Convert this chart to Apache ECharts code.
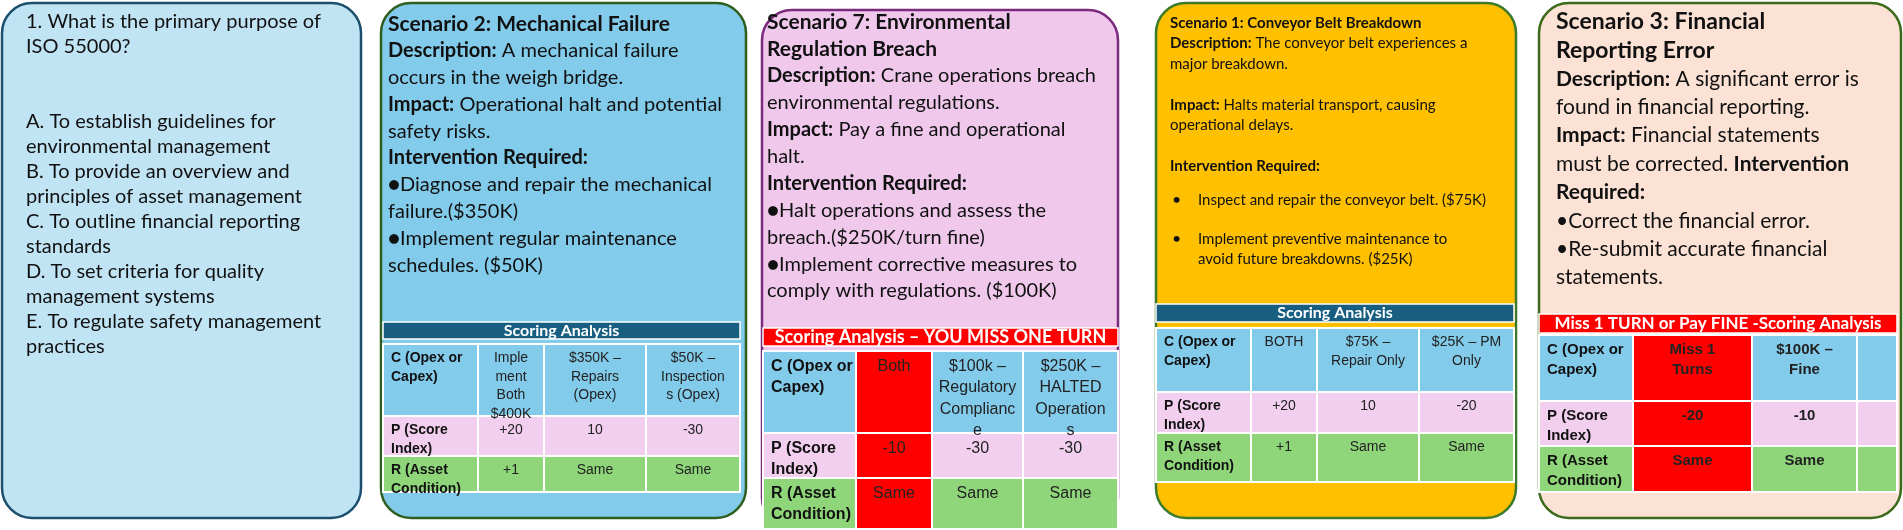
<!DOCTYPE html>
<html>
<head>
<meta charset="utf-8">
<script src="https://cdn.jsdelivr.net/npm/echarts@6/dist/echarts.min.js"></script>
<style>html,body{margin:0;padding:0;background:#fff}#chart{width:1903px;height:530px}</style>
</head>
<body>
<div id="chart"></div>
<script>
// card texts ({b|...} = bold)
var quizLines = ['1. What is the primary purpose of', 'ISO 55000?', '', '',
    'A. To establish guidelines for', 'environmental management',
    'B. To provide an overview and', 'principles of asset management',
    'C. To outline financial reporting', 'standards',
    'D. To set criteria for quality', 'management systems',
    'E. To regulate safety management', 'practices'];
var scen2Lines = ['{t|Scenario 2: Mechanical Failure}', '{b|Description:} A mechanical failure',
    'occurs in the weigh bridge.', '{b|Impact:} Operational halt and potential', 'safety risks.',
    '{b|Intervention Required:}', '●Diagnose and repair the mechanical', 'failure.($350K)',
    '●Implement regular maintenance', 'schedules. ($50K)'];
var scen7Lines = ['{t|Scenario 7: Environmental}', '{t|Regulation Breach}',
    '{b|Description:} Crane operations breach', 'environmental regulations.',
    '{b|Impact:} Pay a fine and operational', 'halt.', '{b|Intervention Required:}',
    '●Halt operations and assess the', 'breach.($250K/turn fine)',
    '●Implement corrective measures to', 'comply with regulations. ($100K)'];
var scen1Lines = ['{b|Scenario 1: Conveyor Belt Breakdown}', '{b|Description:} The conveyor belt experiences a',
    'major breakdown.', '', '{b|Impact:} Halts material transport, causing', 'operational delays.', '',
    '{b|Intervention Required:}'];
var scen1Bullets = [['Inspect and repair the conveyor belt. ($75K)'],
    ['Implement preventive maintenance to', 'avoid future breakdowns. ($25K)']];
var scen3Lines = ['{t|Scenario 3: Financial}', '{t|Reporting Error}',
    '{b|Description:} A significant error is', 'found in financial reporting.',
    '{b|Impact:} Financial statements', 'must be corrected. {b|Intervention}',
    '{b|Required:}', '•Correct the financial error.', '•Re-submit accurate financial', 'statements.'];

// scoring tables
var rowLabels = ['C (Opex or\nCapex)', 'P (Score\nIndex)', 'R (Asset\nCondition)'];
var table2 = [['Imple\nment\nBoth\n$400K', '$350K –\nRepairs\n(Opex)', '$50K –\nInspection\ns (Opex)'],
    ['+20', '10', '-30'], ['+1', 'Same', 'Same']];
var table7 = [['Both', '$100k –\nRegulatory\nComplianc\ne', '$250K –\nHALTED\nOperation\ns'],
    ['-10', '-30', '-30'], ['Same', 'Same', 'Same']];
var table1 = [['BOTH', '$75K –\nRepair Only', '$25K – PM\nOnly'],
    ['+20', '10', '-20'], ['+1', 'Same', 'Same']];
var table3 = [['Miss 1\nTurns', '$100K –\nFine', ''], ['-20', '-10', ''], ['Same', 'Same', '']];
var tableTitles = ['Scoring Analysis', 'Scoring Analysis – YOU MISS ONE TURN',
    'Scoring Analysis', 'Miss 1 TURN or Pay FINE -Scoring Analysis'];

var BODY = 'Lato, "Open Sans", sans-serif';
var TAB = '"Liberation Sans", Arial, sans-serif';
var rowFill = ['#83cbeb', '#f2cfee', '#8fd67a'];
var els = [];

function card(x, y, w, h, fill, stroke) {
    els.push({type: 'rect', shape: {x: x, y: y, width: w, height: h, r: 30},
        style: {fill: fill, stroke: stroke, lineWidth: 2.5}, z: 1});
}
function lines(x, y, dy, arr, size, tsize) {
    arr.forEach(function (s, i) {
        if (!s) return;
        els.push({type: 'text', x: x, y: y + i * dy, z: 5, style: {
            text: s, font: size + 'px ' + BODY, fill: '#111', verticalAlign: 'middle',
            rich: {b: {fontWeight: 'bold', fontSize: size, fontFamily: BODY, fill: '#111'},
                   t: {fontWeight: 'bold', fontSize: tsize || size, fontFamily: BODY, fill: '#111'}}}});
    });
}
function table(cols, head, rows, data, title, headFill, size, opt) {
    opt = opt || {};
    var x0 = cols[0], x1 = cols[cols.length - 1];
    els.push({type: 'rect', shape: {x: x0, y: head[0], width: x1 - x0, height: head[1] - head[0]},
        style: {fill: headFill, stroke: '#fff', lineWidth: 1.5}, z: 3});
    els.push({type: 'text', x: (x0 + x1) / 2, y: (head[0] + head[1]) / 2, z: 5, style: {
        text: title, font: 'bold ' + (size + 2) + 'px ' + BODY, fill: '#fff', align: 'center', verticalAlign: 'middle'}});
    for (var r = 0; r < 3; r++) {
        for (var c = 0; c < 4; c++) {
            var red = opt.redCol && c === 1;
            els.push({type: 'rect', shape: {x: cols[c], y: rows[r], width: cols[c + 1] - cols[c], height: rows[r + 1] - rows[r]},
                style: {fill: red ? '#ff0000' : rowFill[r], stroke: '#fff', lineWidth: 2}, z: 3});
            var txt = c === 0 ? rowLabels[r] : data[r][c - 1];
            var bold = c === 0 || (opt.boldCols && opt.boldCols.indexOf(c) >= 0);
            els.push({type: 'text', z: 5,
                x: c === 0 ? cols[0] + 8 : (cols[c] + cols[c + 1]) / 2, y: rows[r] + 5,
                style: {text: txt, font: (bold ? 'bold ' : '') + size + 'px ' + TAB,
                    fill: c === 0 ? '#111' : '#222', align: c === 0 ? 'left' : 'center',
                    verticalAlign: 'top', lineHeight: size * 1.33}});
        }
    }
}

// card 1: quiz
card(2, 3, 359, 515, '#c1e4f5', '#1c4f6e');
lines(26, 22, 25, quizLines, 20);
// card 2
card(381, 3, 365, 515, '#83cbeb', '#2f5f1f');
lines(388, 24, 26.8, scen2Lines, 20, 21);
table([383, 478, 544, 646, 740], [322, 339], [344, 416, 456, 492], table2, tableTitles[0], '#175e80', 14);
// card 3
card(762, 10, 356, 518, '#f0c8ec', '#7b2a7d');
lines(767, 22, 26.9, scen7Lines, 20, 21);
table([763, 856, 932, 1023, 1118], [328, 346], [351, 433, 478, 529], table7, tableTitles[1], '#ff0000', 16, {redCol: true});
// card 4
card(1156, 3, 360, 515, '#ffc000', '#3a7a2a');
lines(1170, 23, 20.5, scen1Lines, 15);
lines(1198, 200, 20.5, scen1Bullets[0], 15);
lines(1198, 239, 20.5, scen1Bullets[1], 15);
[200, 239].forEach(function (y) {
    els.push({type: 'text', x: 1172, y: y, z: 5, style: {text: '•', font: '16px ' + BODY, fill: '#111', verticalAlign: 'middle'}});
});
table([1156, 1251, 1317, 1419, 1514], [304, 322], [328, 392, 433, 482], table1, tableTitles[2], '#175e80', 14);
// card 5
card(1539, 3, 362, 515, '#fbe2d5', '#3a6a1a');
lines(1556, 22, 28.4, scen3Lines, 21, 23);
table([1539, 1633, 1752, 1857, 1897], [314, 333], [335, 401, 446, 492], table3, tableTitles[3], '#ff0000', 15,
    {redCol: true, boldCols: [1, 2]});

var myChart = echarts.init(document.getElementById('chart'));
myChart.setOption({animation: false, graphic: {elements: els}});
</script>
</body>
</html>
